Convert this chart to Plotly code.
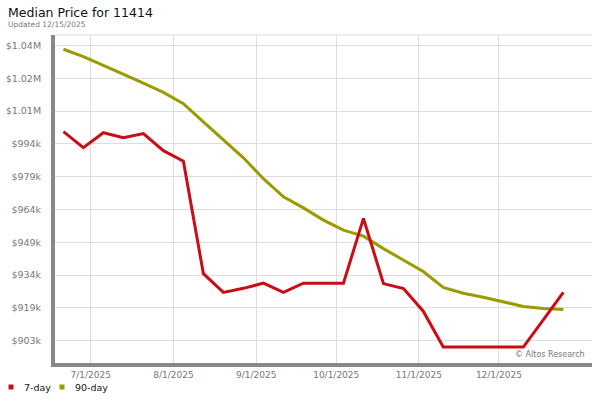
"""Median price chart (7-day vs 90-day) rebuilt with Plotly."""

import plotly.graph_objects as go

# Data (prices in $k)
DATES = [
    "2025-06-20 18:00", "2025-06-28 05:00", "2025-07-05 17:00", "2025-07-13 05:00",
    "2025-07-20 17:00", "2025-07-28 05:00", "2025-08-04 17:00", "2025-08-12 05:00",
    "2025-08-19 17:00", "2025-08-27 05:00", "2025-09-03 17:00", "2025-09-11 05:00",
    "2025-09-18 17:00", "2025-09-26 05:00", "2025-10-03 17:00", "2025-10-11 05:00",
    "2025-10-18 17:00", "2025-10-26 05:00", "2025-11-02 15:00", "2025-11-10 03:00",
    "2025-11-17 15:00", "2025-11-25 03:00", "2025-12-02 15:00", "2025-12-10 03:00",
    "2025-12-17 15:00", "2025-12-25 03:00",
]
SEVEN_DAY = [
    1000.4, 993.0, 999.9, 997.6, 999.5, 991.6, 986.7, 934.6, 925.9, 927.8,
    930.2, 925.9, 930.2, 930.2, 930.2, 960.2, 930.0, 927.7, 917.2, 900.6,
    900.6, 900.6, 900.6, 900.6, 913.2, 925.9,
]
NINETY_DAY = [
    1038.6, 1035.2, 1031.1, 1027.1, 1022.9, 1018.6, 1013.4, 1004.9, 996.7, 988.3,
    978.6, 970.2, 965.1, 959.4, 954.8, 952.0, 946.2, 940.8, 935.6, 928.2,
    925.5, 923.7, 921.5, 919.4, 918.5, 918.0,
]
Y_TICK_VALS = [903.5, 918.7, 933.9, 949.1, 964.3, 979.5, 994.7, 1009.9, 1025.1, 1040.3]
Y_TICK_TEXT = ["$903k", "$919k", "$934k", "$949k", "$964k", "$979k", "$994k",
               "$1.01M", "$1.02M", "$1.04M"]
X_TICK_VALS = ["2025-07-01", "2025-08-01", "2025-09-01", "2025-10-01", "2025-11-01", "2025-12-01"]
X_TICK_TEXT = ["7/1/2025", "8/1/2025", "9/1/2025", "10/1/2025", "11/1/2025", "12/1/2025"]
SERIES_NAMES = ["7-day", "90-day"]

RED = "#c80d14"
OLIVE = "#9b9b00"
FONT = "DejaVu Sans"
GREY_TEXT = "#777777"

fig = go.Figure()
fig.add_trace(go.Scatter(x=DATES, y=NINETY_DAY, mode="lines", name=SERIES_NAMES[1],
                         line={"color": OLIVE, "width": 3}))
fig.add_trace(go.Scatter(x=DATES, y=SEVEN_DAY, mode="lines", name=SERIES_NAMES[0],
                         line={"color": RED, "width": 3}))

# hand-drawn legend below the axis: small square + label, in page pixels
legend_shapes = []
legend_notes = []
for i, (name, color) in enumerate(zip(SERIES_NAMES, (RED, OLIVE))):
    left = 8.5 + 51 * i
    legend_shapes.append({
        "type": "rect", "xref": "paper", "yref": "paper",
        "x0": (left - 55) / 537, "x1": (left + 5 - 55) / 537,
        "y0": (363 - 384.5) / 328, "y1": (363 - 389.5) / 328,
        "fillcolor": color, "line": {"width": 0},
    })
    legend_notes.append({
        "text": name, "xref": "paper", "yref": "paper",
        "x": (left + 13 - 55) / 537, "y": (363 - 387) / 328,
        "xanchor": "left", "yanchor": "middle", "showarrow": False,
        "font": {"family": FONT, "size": 9.5, "color": "#111"},
    })

fig.update_layout(
    width=600,
    height=400,
    margin={"l": 55, "r": 8, "t": 35, "b": 37},
    paper_bgcolor="white",
    plot_bgcolor="white",
    font={"family": FONT, "size": 9, "color": GREY_TEXT},
    showlegend=False,
    annotations=[
        {"text": "Median Price for 11414", "xref": "paper", "yref": "paper",
         "x": (6 - 55) / 537, "y": (363 - 12) / 328, "xanchor": "left", "yanchor": "middle",
         "showarrow": False, "font": {"family": FONT, "size": 12.5, "color": "#111"}},
        {"text": "Updated 12/15/2025", "xref": "paper", "yref": "paper",
         "x": (6 - 55) / 537, "y": (363 - 25) / 328, "xanchor": "left", "yanchor": "middle",
         "showarrow": False, "font": {"family": FONT, "size": 7.5, "color": GREY_TEXT}},
        {"text": "© Altos Research", "xref": "paper", "yref": "paper",
         "x": (587 - 55) / 537, "y": (363 - 354) / 328, "xanchor": "right", "yanchor": "middle",
         "showarrow": False, "font": {"family": FONT, "size": 8, "color": GREY_TEXT}},
        *legend_notes,
    ],
    shapes=[
        {"type": "line", "xref": "paper", "yref": "paper", "x0": 0, "x1": 1,
         "y0": 1, "y1": 1, "line": {"color": "#dddddd", "width": 1}, "layer": "below"},
        *legend_shapes,
    ],
)
fig.update_xaxes(
    type="date",
    range=["2025-06-17 14:00", "2026-01-04 21:00"],
    tickvals=X_TICK_VALS,
    ticktext=X_TICK_TEXT,
    showgrid=True,
    gridcolor="#dddddd",
    gridwidth=1,
    showline=True,
    linecolor="#888888",
    linewidth=4,
    ticks="",
    tickfont={"size": 9, "color": GREY_TEXT},
    zeroline=False,
    automargin=False,
)
fig.update_yaxes(
    range=[893.2, 1045.2],
    tickvals=Y_TICK_VALS,
    ticktext=Y_TICK_TEXT,
    showgrid=True,
    gridcolor="#dddddd",
    gridwidth=1,
    showline=True,
    linecolor="#888888",
    linewidth=4,
    ticks="",
    ticklabelstandoff=8,
    tickfont={"size": 9.5, "color": GREY_TEXT},
    zeroline=False,
    automargin=False,
)

# the browser's default 8px body margin would push the 600x400 figure off the window
fig.write_html(
    "out.html",
    config={"displayModeBar": False},
    post_script="document.body.style.margin = '0';",
)
